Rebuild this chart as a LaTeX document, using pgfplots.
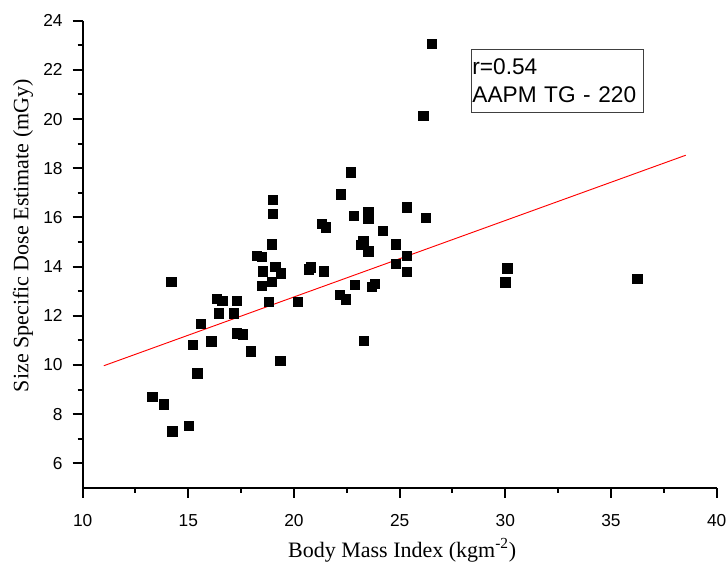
\documentclass[border=0pt]{standalone}
\usepackage{fontspec}
\setmainfont{Liberation Serif}
\newfontfamily\arial{Liberation Sans}
\usepackage{pgfplots}
\pgfplotsset{compat=1.18}
\begin{document}
\begin{tikzpicture}
\useasboundingbox (-62.0pt,-57.0pt) rectangle (482.5pt,366.0pt);
\begin{axis}[
  scale only axis, width=475.5pt, height=350.5pt,
  xmin=10, xmax=40, ymin=5, ymax=24,
  separate axis lines,
  every outer x axis line/.append style={draw=none},
  every outer y axis line/.append style={draw=none},
  xtick pos=bottom, ytick pos=left,
  xtick={10,15,...,40}, minor x tick num=1,
  ytick={6,8,...,24}, minor y tick num=1,
  tick align=outside,
  major tick length=7.5pt, minor tick length=3.75pt,
  tick style={line width=1.5pt, black},
  ticklabel style={font=\arial\fontsize{13}{15}\selectfont},
  xticklabel style={yshift=-9pt},
  yticklabel style={xshift=-4pt},
  xlabel={Body Mass Index (kgm\textsuperscript{-2})},
  ylabel={Size Specific Dose Estimate (mGy)},
  label style={font=\fontsize{16.5}{19}\selectfont},
  xlabel style={at={(axis description cs:0.504,-0.133)}, anchor=center},
  ylabel style={at={(axis description cs:-0.094,0.54)}, anchor=center},
  clip=false,
  /pgf/number format/assume math mode=true,
]
\addplot[only marks, mark=square*, mark size=3.5pt, black] coordinates {
(13.30,8.71) (13.83,8.41) (14.24,7.30) (15.01,7.52) (14.20,13.39)
(15.21,10.82) (15.42,9.66) (15.58,11.69) (16.09,10.96) (16.33,12.68)
(16.60,12.61) (16.45,12.10) (17.16,12.10) (17.30,12.61) (17.29,11.29)
(17.58,11.25) (17.96,10.56) (18.25,14.43) (18.48,14.39) (18.52,13.81)
(18.49,13.22) (18.81,12.57) (18.96,13.39) (19.12,14.00) (19.36,13.73)
(19.35,10.17) (18.99,16.71) (18.99,16.14) (18.96,14.91) (20.17,12.58)
(20.70,13.89) (20.80,13.97) (21.41,13.81) (21.30,15.75) (21.51,15.60)
(22.20,16.94) (22.68,17.83) (22.84,16.06) (23.52,16.22) (23.52,15.96)
(24.21,15.45) (23.28,15.06) (23.16,14.88) (23.52,14.62) (24.80,14.91)
(25.35,16.41) (26.23,16.00) (25.35,14.43) (24.83,14.12) (25.35,13.79)
(22.18,12.85) (22.46,12.67) (22.87,13.25) (23.68,13.18) (23.82,13.30)
(23.29,10.99) (26.53,23.05) (26.12,20.14) (30.09,13.93) (29.99,13.36)
(36.24,13.50)
};
\addplot[red, line width=0.7pt, no marks] coordinates {(11,9.97) (38.54,18.53)};
\addplot[black, line width=1.5pt, no marks] coordinates {(10,24) (10,5) (40,5)};
\node[draw=black!75, line width=0.6pt, anchor=north west, inner xsep=1pt, inner ysep=0pt,
  text width=127.5pt, minimum height=47pt, align=left,
  font=\arial\fontsize{17}{21.5}\selectfont] at (axis cs:28.36,22.85)
  {r=0.54\\AAPM TG - 220};
\end{axis}
\end{tikzpicture}
\end{document}
